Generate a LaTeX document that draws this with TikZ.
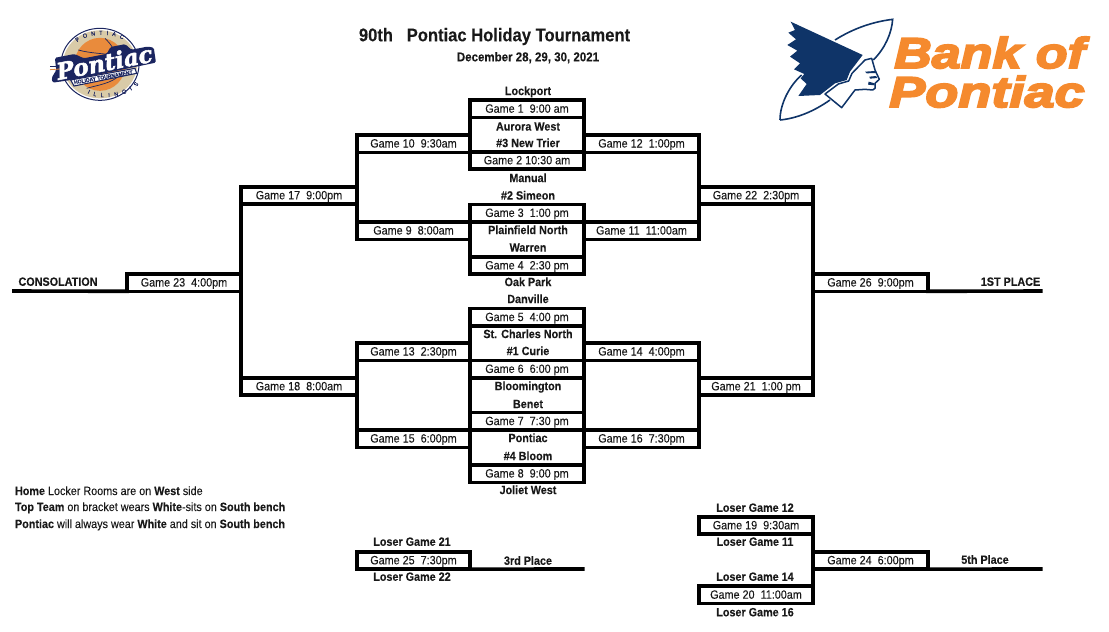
\documentclass[tikz,border=0pt]{standalone}
\usepackage{fontspec}
\setmainfont[FakeStretch=0.9,FakeBold=0.1]{Liberation Sans}
\newfontfamily\bankf[FakeStretch=1.21,FakeBold=4.5]{Liberation Sans}
\newfontfamily\scriptf[FakeBold=2.2]{DejaVu Serif}
\usetikzlibrary{decorations.text}
\definecolor{navy}{HTML}{0F3468}
\definecolor{bankorange}{HTML}{F58A2E}
\definecolor{balltan}{HTML}{D9CBA8}
\definecolor{ballorange}{HTML}{E98B3C}
\definecolor{logonavy}{HTML}{1B2560}
\tikzset{
  x=1pt,y=-1pt,
  gamebox/.style={draw=black,line width=3.6pt,inner sep=0pt,outer sep=0pt,minimum height=17.4pt,font=\fontsize{12}{14}\selectfont,text=black!90,text height=7.8pt,text depth=0pt},
  w114/.style={minimum width=114pt},
  w113/.style={minimum width=113pt},
  w115/.style={minimum width=115pt},
  w116/.style={minimum width=116pt},
  team/.style={inner sep=0pt,outer sep=0pt,font=\fontsize{12}{14}\selectfont\bfseries,text=black!90,text height=8.6pt,text depth=0pt},
  note/.style={inner sep=0pt,outer sep=0pt,anchor=base west,font=\fontsize{12}{14}\selectfont,text=black!90},
  bracket/.style={draw=black,line width=3.6pt,line cap=rect},
}
\begin{document}
\begin{tikzpicture}
\useasboundingbox (0,0) rectangle (1109,632);
% title
\node[team,font=\fontsize{18.4}{20}\selectfont\bfseries] (title) at (494.5,37) {90th~~~Pontiac Holiday Tournament};
\node[team,font=\fontsize{12.8}{14}\selectfont\bfseries] (date) at (528,57) {December 28, 29, 30, 2021};
% free ends
\coordinate (con) at (14,291);
\coordinate (first) at (1040.7,291);
\coordinate (third) at (582.7,569);
\coordinate (fifth) at (1040.7,569);
% games centre
\foreach \n/\y/\t in {
  g1/108.8/{Game 1~~9:00 am},
  g2/160.4/{Game 2 10:30 am},
  g3/213/{Game 3~~1:00 pm},
  g4/265.5/{Game 4~~2:30 pm},
  g5/317.2/{Game 5~~4:00 pm},
  g6/369/{Game 6~~6:00 pm},
  g7/421.2/{Game 7~~7:30 pm},
  g8/473.6/{Game 8~~9:00 pm}}
  \node[gamebox,w114] (\n) at (527,\y) {\t};
\foreach \n/\y/\t in {
  g10/143.6/{Game 10~~9:30am},
  g9/230.6/{Game 9~~8:00am},
  g13/351.6/{Game 13~~2:30pm},
  g15/438.6/{Game 15~~6:00pm},
  g25/560.4/{Game 25~~7:30pm}}
  \node[gamebox,w113] (\n) at (413.5,\y) {\t};
\foreach \n/\y/\t in {
  g12/143.6/{Game 12~~1:00pm},
  g11/230.6/{Game 11~~11:00am},
  g14/351.6/{Game 14~~4:00pm},
  g16/438.6/{Game 16~~7:30pm}}
  \node[gamebox,w115] (\n) at (641.5,\y) {\t};
\foreach \n/\y/\t in {
  g17/195.4/{Game 17~~9:00pm},
  g18/386.4/{Game 18~~8:00am}}
  \node[gamebox,w116] (\n) at (299,\y) {\t};
\foreach \n/\y/\t in {
  g22/195.4/{Game 22~~2:30pm},
  g21/386.4/{Game 21~~1:00 pm},
  g19/525.4/{Game 19~~9:30am},
  g20/594.8/{Game 20~~11:00am}}
  \node[gamebox,w114] (\n) at (756,\y) {\t};
\node[gamebox,w114] (g23) at (184,282.6) {Game 23~~4:00pm};
\foreach \n/\y/\t in {
  g26/282.6/{Game 26~~9:00pm},
  g24/560.4/{Game 24~~6:00pm}}
  \node[gamebox,w115] (\n) at (870.5,\y) {\t};
% connectors
\draw[bracket] (g1.north west) -- (g2.south west);
\draw[bracket] (g1.north east) -- (g2.south east);
\draw[bracket] (g1.south west) -- (g1.south east);
\draw[bracket] (g3.north west) -- (g4.south west);
\draw[bracket] (g3.north east) -- (g4.south east);
\draw[bracket] (g5.north west) -- (g8.south west);
\draw[bracket] (g5.north east) -- (g8.south east);
\draw[bracket] (g10.north west) -- (g9.south west);
\draw[bracket] (g12.north east) -- (g11.south east);
\draw[bracket] (g13.north west) -- (g15.south west);
\draw[bracket] (g14.north east) -- (g16.south east);
\draw[bracket] (g17.north west) -- (g18.south west);
\draw[bracket] (g22.north east) -- (g21.south east);
\draw[bracket] (g19.north east) -- (g20.south east);
\draw[bracket] (con) -- (g23.south west);
\draw[bracket] (g26.south east) -- (first);
\draw[bracket] (g25.south east) -- (third);
\draw[bracket] (g24.south east) -- (fifth);
% team names
\foreach \n/\y/\t in {
  lockport/90.7/Lockport,
  aurora/126.3/Aurora West,
  newtrier/142.8/\#3 New Trier,
  manual/177.8/Manual,
  simeon/195.3/\#2 Simeon,
  plainfield/229.8/Plainfield North,
  warren/247.3/Warren,
  oakpark/281.8/Oak Park,
  danville/298.8/Danville,
  stcharles/333.8/St. Charles North,
  curie/350.8/\#1 Curie,
  bloomington/385.8/Bloomington,
  benet/403.8/Benet,
  pontiac/437.8/Pontiac,
  bloom/455.8/\#4 Bloom,
  joliet/489.8/Joliet West,
  thirdp/560.5/3rd Place}
  \node[team] (\n) at (528,\y) {\t};
\node[team] (consol) at (58,281.5) {CONSOLATION};
\node[team] (firstp) at (1010.5,281.5) {1ST PLACE};
\node[team] (fifthp) at (985,559.5) {5th Place};
\node[team] (l21) at (412,541.5) {Loser Game 21};
\node[team] (l22) at (412,576.5) {Loser Game 22};
\node[team] (l12) at (755,507.5) {Loser Game 12};
\node[team] (l11) at (755,541.5) {Loser Game 11};
\node[team] (l14) at (755,576.5) {Loser Game 14};
\node[team] (l16) at (755,612) {Loser Game 16};
% notes
\node[note] (n1) at (15,495) {\textbf{Home} Locker Rooms are on \textbf{West} side};
\node[note] (n2) at (15,511) {\textbf{Top Team} on bracket wears \textbf{White}-sits on \textbf{South bench}};
\node[note] (n3) at (15,528) {\textbf{Pontiac} will always wear \textbf{White} and sit on \textbf{South bench}};
% Bank of Pontiac logo
\node[inner sep=0pt,anchor=base west,text=bankorange,font=\fontsize{43}{44}\bankf\bfseries\itshape] (bank) at (894,68) {Bank of};
\node[inner sep=0pt,anchor=base west,xscale=1.04,text=bankorange,font=\fontsize{43}{44}\bankf\bfseries\itshape] (pont) at (889,107) {Pontiac};
\begin{scope}[shift={(770,10)},x=0.33333pt,y=-0.33333pt]
  \draw[navy,line width=1.6pt] (30,330) .. controls (30,280) and (60,225) .. (95,195);
  \draw[navy,line width=1.6pt] (195,90) .. controls (250,55) and (310,35) .. (368,28) .. controls (365,70) and (345,115) .. (310,150);
  \draw[navy,line width=1.6pt] (30,330) .. controls (80,325) and (130,305) .. (180,270);
  \fill[navy] (62,35) -- (278,135) -- (240,185) -- (230,210) -- (195,220) -- (150,255) -- (85,258) -- (110,222) -- (92,205) -- (103,192) -- (72,178) -- (90,160) -- (60,140) -- (82,122) -- (52,105) -- (78,88) -- (55,68) -- (75,60) -- cycle;
  \filldraw[draw=navy,fill=white,line width=1.5pt,line join=round] (285,150) -- (305,145) -- (315,180) -- (328,208) -- (315,220) -- (315,235) -- (308,240) -- (285,238) -- (255,240) -- (215,293) -- (165,252) -- (205,222) -- (236,213) -- (246,190) -- cycle;
  \fill[navy] (285,185) -- (316,183) -- (318,189) -- (290,190) -- cycle;
  \fill[navy] (298,200) -- (318,198) -- (322,204) -- (300,206) -- cycle;
  \fill[navy] (296,215) -- (314,220) -- (314,226) -- (294,224) -- cycle;
\end{scope}
% Pontiac Holiday Tournament logo
\begin{scope}[shift={(40,25)},x=0.33333pt,y=-0.33333pt]
  \filldraw[draw=logonavy,fill=white,line width=1pt] (180,118) ellipse [x radius=39pt,y radius=36pt];
  \fill[balltan] (180,118) ellipse [x radius=37pt,y radius=34pt];
  \fill[ballorange] (180,118) ellipse [x radius=25.5pt,y radius=26.5pt];
  \draw[logonavy,line width=0.7pt] (115,75) .. controls (150,85) and (190,85) .. (215,90) (195,40) .. controls (215,60) and (225,75) .. (225,95) (140,190) .. controls (175,180) and (215,175) .. (240,150);
  \path[decorate,decoration={text along path,text align=fit to path,text={|\fontsize{6}{7}\selectfont\color{logonavy}|PONTIAC}}] (112,52) .. controls (140,26) and (215,22) .. (248,44);
  \path[decorate,decoration={text along path,text align=fit to path,text={|\fontsize{6}{7}\selectfont\color{logonavy}|ILLINOIS}}] (142,205) .. controls (180,226) and (260,220) .. (296,178);
  \begin{scope}[shift={(195,112)},rotate=11]
    \fill[logonavy,rounded corners=1.5pt] (-166,30) -- (-100,33) -- (150,30) -- (152,-15) -- (135,-22) -- (85,-22) -- (70,-42) -- (25,-42) -- (10,-24) -- (-60,-24) -- (-85,-42) -- (-145,-42) -- (-148,-5) -- (-166,15) -- cycle;
  \end{scope}
  \draw[logonavy,line width=1.1pt,fill=white] (92,165) -- (285,130) -- (290,145) -- (102,183) -- cycle;
  \node[inner sep=0pt,rotate=10,text=logonavy,font=\fontsize{5.6}{6}\selectfont\bfseries] (holiday) at (190,157) {HOLIDAY TOURNAMENT};
  \draw[logonavy,line width=1.4pt] (30,125) -- (60,125);
  \draw[ballorange,line width=0.8pt] (30,134) -- (60,132);
  \node[inner sep=0pt,rotate=11,text=white,font=\fontsize{23}{25}\scriptf\bfseries\itshape] (script) at (193,112) {Pontiac};
\end{scope}
\end{tikzpicture}
\end{document}
